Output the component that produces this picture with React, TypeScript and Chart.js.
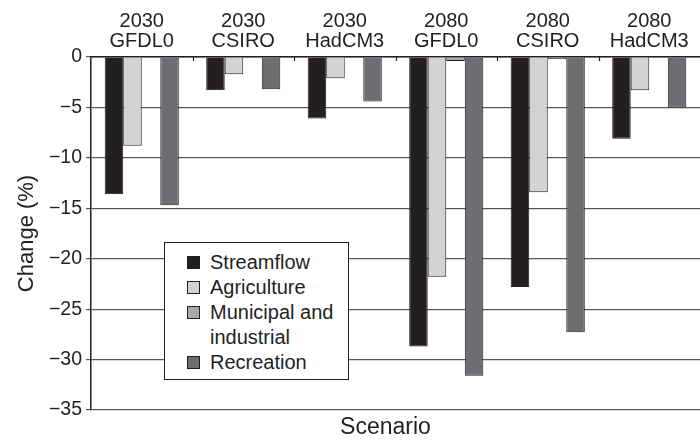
import React, { useEffect, useRef } from 'react';
import { Chart, registerables } from 'chart.js';

Chart.register(...registerables);

const categories: string[][] = [
  ['2030', 'GFDL0'],
  ['2030', 'CSIRO'],
  ['2030', 'HadCM3'],
  ['2080', 'GFDL0'],
  ['2080', 'CSIRO'],
  ['2080', 'HadCM3'],
];
const streamflow = [-13.6, -3.3, -6.1, -28.7, -22.8, -8.1];
const agriculture = [-8.8, -1.7, -2.1, -21.8, -13.4, -3.3];
const municipal = [0, 0, 0, -0.4, -0.2, 0];
const recreation = [-14.7, -3.2, -4.4, -31.6, -27.3, -5.0];
const seriesNames = ['Streamflow', 'Agriculture', 'Municipal and industrial', 'Recreation'];
const seriesColors = ['#231f20', '#d1d3d4', '#a7a9ac', '#6d6e71'];
const yMin = -35;
const yMax = 0;
const yStep = 5;

const FONT = '"Liberation Sans", Arial, Helvetica, sans-serif';
const INK = '#231f20';

const edgeTicks = {
  id: 'edgeTicks',
  afterDatasetsDraw(chart: any) {
    const x = chart.scales.x;
    const { ctx, chartArea } = chart;
    ctx.save();
    ctx.strokeStyle = INK;
    ctx.lineWidth = 1.2;
    for (let i = 0; i < categories.length - 1; i++) {
      const px = Math.round((x.getPixelForValue(i) + x.getPixelForValue(i + 1)) / 2) + 0.5;
      ctx.beginPath();
      ctx.moveTo(px, chartArea.top);
      ctx.lineTo(px, chartArea.top + 4);
      ctx.stroke();
    }
    ctx.fillStyle = INK;
    ctx.font = `23px ${FONT}`;
    ctx.textAlign = 'center';
    ctx.textBaseline = 'middle';
    ctx.fillText('Scenario', (chartArea.left + chartArea.right) / 2 - 10, chartArea.bottom + 18);
    ctx.restore();
  },
};

export default function App() {
  const ref = useRef<HTMLCanvasElement>(null);

  useEffect(() => {
    document.body.style.margin = '0';
    const data = [streamflow, agriculture, municipal, recreation];
    const chart = new Chart(ref.current as HTMLCanvasElement, {
      type: 'bar',
      data: {
        labels: categories as any,
        datasets: seriesNames.map((name, i) => ({
          label: name,
          data: data[i],
          backgroundColor: seriesColors[i],
          borderColor: INK,
          borderWidth: 1,
          categoryPercentage: 0.73,
          barPercentage: 1,
        })),
      },
      options: {
        animation: false,
        responsive: false,
        maintainAspectRatio: false,
        layout: { padding: { left: 0, right: 0, top: 0, bottom: 33 } },
        plugins: {
          legend: { display: false },
          tooltip: { enabled: false },
          title: { display: false },
        },
        scales: {
          x: {
            position: 'top',
            offset: true,
            grid: { display: false, drawTicks: false },
            border: { display: true, color: INK, width: 1.5 },
            ticks: {
              color: INK,
              font: { family: FONT, size: 20, lineHeight: 1.0 },
              padding: 6,
              maxRotation: 0,
              autoSkip: false,
            },
            afterFit: (s: any) => {
              s.height = 57;
            },
          },
          y: {
            min: yMin,
            max: yMax,
            grid: { color: '#58585a', lineWidth: 1.2, tickLength: 5, drawTicks: true },
            border: { display: true, color: INK, width: 1.5 },
            ticks: {
              stepSize: yStep,
              color: INK,
              padding: 4,
              font: { family: FONT, size: 19.5 },
              callback: (v: any) => (Number(v) === 0 ? '0' : '\u2212' + Math.abs(Number(v))),
            },
            title: {
              display: true,
              text: 'Change (%)',
              color: INK,
              font: { family: FONT, size: 22 },
              padding: { top: 14, bottom: 0 },
            },
            afterFit: (s: any) => {
              s.width = 91;
            },
          },
        },
      },
      plugins: [edgeTicks],
    });
    return () => chart.destroy();
  }, []);

  const legendNames = [['Streamflow'], ['Agriculture'], ['Municipal and', 'industrial'], ['Recreation']];

  return (
    <div style={{ position: 'relative', width: 700, height: 443, background: '#fff' }}>
      <canvas ref={ref} width={700} height={443} style={{ display: 'block' }} />
      <div
        style={{
          position: 'absolute',
          left: 164,
          top: 242,
          width: 185,
          height: 138,
          boxSizing: 'border-box',
          border: `1.5px solid ${INK}`,
          background: '#fff',
          padding: '7px 0 0 22px',
          fontFamily: FONT,
          fontSize: 20,
          color: INK,
          lineHeight: '25px',
        }}
      >
        {seriesNames.map((name, i) => (
          <div key={name} style={{ display: 'flex', alignItems: 'flex-start' }}>
            <span
              style={{
                display: 'inline-block',
                width: 13,
                height: 13,
                marginTop: 6,
                marginRight: 10,
                boxSizing: 'border-box',
                border: `1px solid ${INK}`,
                background: seriesColors[i],
                flex: '0 0 auto',
              }}
            />
            <span>
              {legendNames[i].map((l, j) => (
                <div key={j}>{l}</div>
              ))}
            </span>
          </div>
        ))}
      </div>
    </div>
  );
}
